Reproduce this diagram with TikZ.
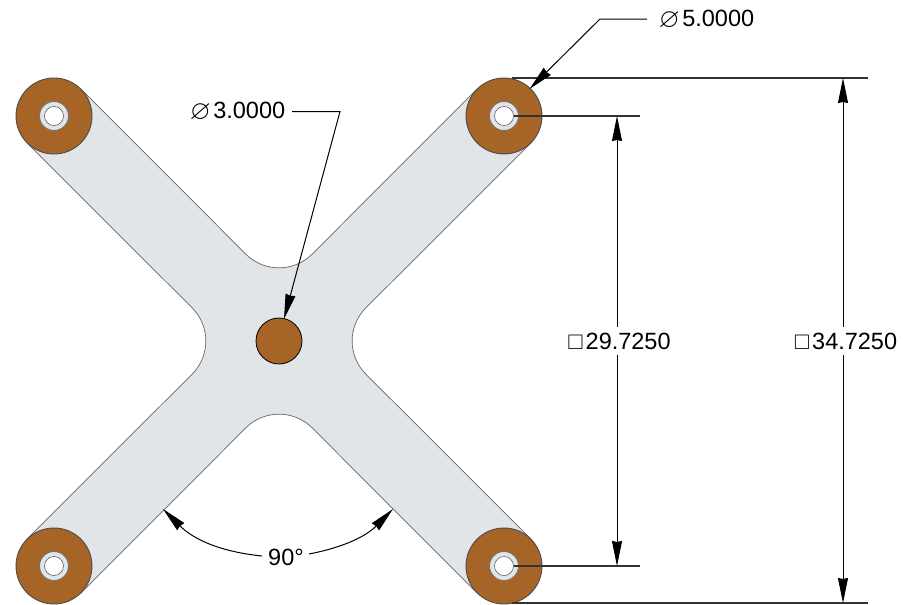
\documentclass[tikz,border=0pt]{standalone}
\usepackage{amssymb,amsmath}
\usepackage{fontspec}
\setmainfont{Liberation Sans}
\usetikzlibrary{arrows.meta,positioning}
\definecolor{padbrown}{RGB}{166,101,38}
\definecolor{armgrey}{RGB}{226,229,232}
\newcommand{\diasym}{{\fontsize{27}{27}\selectfont\raisebox{-1pt}{$\varnothing$}}}
\newcommand{\sqsym}{{\fontsize{21}{21}\selectfont$\square$}}
\tikzset{
	pad/.style={circle,draw=black!70,line width=0.9pt,fill=padbrown,minimum size=76pt,inner sep=0pt,outer sep=0pt},
	ring/.style={circle,draw=black!55,line width=0.9pt,fill=armgrey,minimum size=29pt,inner sep=0pt,outer sep=0pt},
	bore/.style={circle,draw=black!70,line width=0.5pt,fill=white,minimum size=19pt,inner sep=0pt,outer sep=0pt},
	dimtext/.style={font=\fontsize{23.5}{26}\selectfont,inner sep=0pt,outer sep=0pt},
	dimline/.style={line width=1pt,>={Stealth[length=25pt,width=10pt,inset=1pt]}},
	extline/.style={line width=1.1pt,black!80}
}
\begin{document}
\begin{tikzpicture}[x=1pt,y=-1pt]
	\useasboundingbox (0,0) rectangle (903,605);
	% cross
	\draw[fill=armgrey,draw=black!60,line width=0.7pt]
		(245.8,254.1) to[out=-45,in=225] (312.2,254.1) -- (477,89) -- (531,143)
		-- (365.9,307.8) to[out=225,in=135] (365.9,374.2) -- (531,539) -- (477,593)
		-- (312.2,427.9) to[out=135,in=45] (245.8,427.9) -- (81,593) -- (27,539)
		-- (192.1,374.2) to[out=45,in=-45] (192.1,307.8) -- (27,143) -- (81,89)
		-- cycle;
	% pads
	\foreach \name/\x/\y in {tl/54/116,tr/504/116,bl/54/566,br/504/566} {
		\node[pad] (pad_\name) at (\x,\y) {};
		\node[ring] (ring_\name) at (\x,\y) {};
		\node[bore] (bore_\name) at (\x,\y) {};
	}
	\node[circle,draw=black,line width=0.8pt,fill=padbrown,minimum size=46pt,inner sep=0pt] (pad_c) at (279,341) {};
	% labels
	\node[dimtext] (dia_five) at (706.5,20) {\diasym\hspace{2.5pt}5.0000};
	\node[dimtext] (dia_three) at (237.5,111.5) {\diasym\hspace{2.5pt}3.0000};
	\node[dimtext] (sq_small) at (619,341) {\sqsym\hspace{2pt}29.7250};
	\node[dimtext] (sq_large) at (845.5,341) {\sqsym\hspace{2pt}34.7250};
	\node[dimtext] (ang) at (286,557) {90°};
	% dimension end points
	\coordinate (five_bend) at (600,19);
	\coordinate (five_start) at (647,19);
	\coordinate (five_tip) at (529.5,89);
	\coordinate (three_bend) at (340,111.5);
	\coordinate (three_tip) at (284,319);
	\coordinate (small_top) at (617,116);
	\coordinate (small_gap_a) at (617,327);
	\coordinate (small_gap_b) at (617,355);
	\coordinate (small_bot) at (617,566);
	\coordinate (large_top) at (843,78);
	\coordinate (large_gap_a) at (843,327);
	\coordinate (large_gap_b) at (843,355);
	\coordinate (large_bot) at (843,603);
	\coordinate (ext_top_a) at (512,78);
	\coordinate (ext_top_b) at (868,78);
	\coordinate (ext_bot_a) at (512,603);
	\coordinate (ext_bot_b) at (868,603);
	\coordinate (ext_small_a) at (640,116);
	\coordinate (ext_small_b) at (640,566);
	\coordinate (ang_a) at (262,556);
	\coordinate (ang_b) at (309,554);
	\coordinate (ang_left) at (163,509);
	\coordinate (ang_right) at (393,509);
	% extension lines
	\draw[extline] (ext_top_a) -- (ext_top_b);
	\draw[extline] (ext_bot_a) -- (ext_bot_b);
	\draw[extline] (bore_tr.east) -- (ext_small_a);
	\draw[extline] (bore_br.east) -- (ext_small_b);
	% dimensions
	\foreach \from/\to in {small_gap_a/small_top,small_gap_b/small_bot,large_gap_a/large_top,large_gap_b/large_bot}
		\draw[dimline,->] (\from) -- (\to);
	\draw[dimline,->] (five_start) -- (five_bend) -- (five_tip);
	\draw[dimline,->] ([xshift=7pt]dia_three.east) -- (three_bend) -- (three_tip);
	\draw[dimline,->] (ang_a) to[bend left=19.5] (ang_left);
	\draw[dimline,->] (ang_b) to[bend right=17.2] (ang_right);
\end{tikzpicture}
\end{document}
